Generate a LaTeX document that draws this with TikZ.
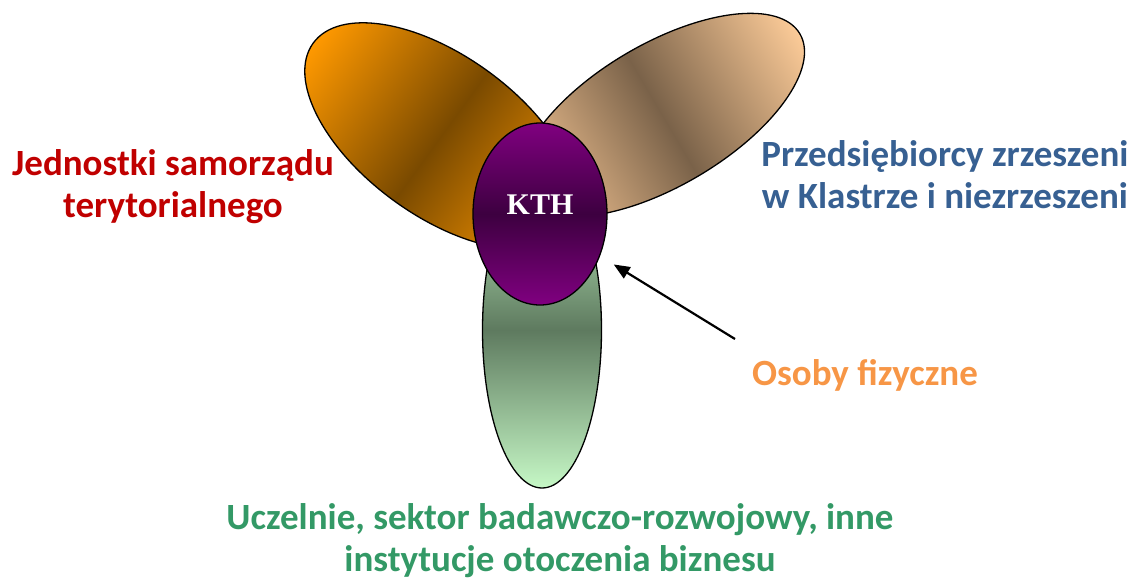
\documentclass[tikz,border=0pt]{standalone}
\usepackage{fontspec}
\setmainfont{Carlito}
\newfontfamily\kthfont{Liberation Serif}
\usetikzlibrary{shapes.geometric,arrows.meta}
\definecolor{orangeend}{HTML}{FF9900}
\definecolor{orangemid}{HTML}{7A4A00}
\definecolor{peachend}{HTML}{FCCB98}
\definecolor{peachmid}{HTML}{7A6249}
\definecolor{greenend}{HTML}{C6F8C6}
\definecolor{greenmid}{HTML}{5E7A5F}
\definecolor{purpend}{HTML}{800080}
\definecolor{purpmid}{HTML}{3D0040}
\definecolor{redtxt}{HTML}{C00000}
\definecolor{bluetxt}{HTML}{376092}
\definecolor{orangetxt}{HTML}{F79646}
\definecolor{greentxt}{HTML}{339966}
\begin{document}
\begin{tikzpicture}[x=1pt,y=-1pt,
  petal/.style={draw=black, line width=1.3pt},
  txtblock/.style={font=\fontsize{37}{41.7}\selectfont\bfseries, align=center, anchor=base, inner sep=0pt},
  pointer/.style={-{Triangle[length=16pt,width=13pt]}, line width=2.2pt}
]
\useasboundingbox (0,0) rectangle (1137,584);
% green petal
\shade[petal, top color=greenend, bottom color=greenend, middle color=greenmid] (542,330) ellipse [x radius=59.5, y radius=158];
% orange petal
\begin{scope}[transform canvas={shift={(441,136)}, rotate=-36}]
  \shade[petal, left color=orangeend, right color=orangeend, middle color=orangemid] (0,0) ellipse [x radius=158, y radius=80];
\end{scope}
% peach petal
\begin{scope}[transform canvas={shift={(662,115)}, rotate=30.5}]
  \shade[petal, left color=peachend, right color=peachend, middle color=peachmid] (0,0) ellipse [x radius=160, y radius=71];
\end{scope}
% centre
\node[ellipse, draw=black, line width=1.3pt, minimum width=134pt, minimum height=182pt, inner sep=0pt,
      top color=purpend, bottom color=purpend, middle color=purpmid] (kth) at (540,214) {};
\node[font=\kthfont\fontsize{30}{36}\selectfont\bfseries, text=white, anchor=base, inner sep=0pt] (kthtext) at (540,214) {KTH};
% labels (anchor=base is the baseline of the last line)
\node[txtblock, text=redtxt] (jst) at (173,217) {Jednostki samorządu\\terytorialnego};
\node[txtblock, text=bluetxt] (prz) at (945,208) {Przedsiębiorcy zrzeszeni\\w Klastrze i niezrzeszeni};
\node[txtblock, text=orangetxt] (osoby) at (865,385) {Osoby fizyczne};
\node[txtblock, text=greentxt] (ucz) at (560,571) {Uczelnie, sektor badawczo-rozwojowy, inne\\instytucje otoczenia biznesu};
% arrow
\coordinate (arrowtail) at (735,339);
\draw[pointer, shorten >=16pt] (arrowtail) -- (kth.-35);
\end{tikzpicture}
\end{document}
